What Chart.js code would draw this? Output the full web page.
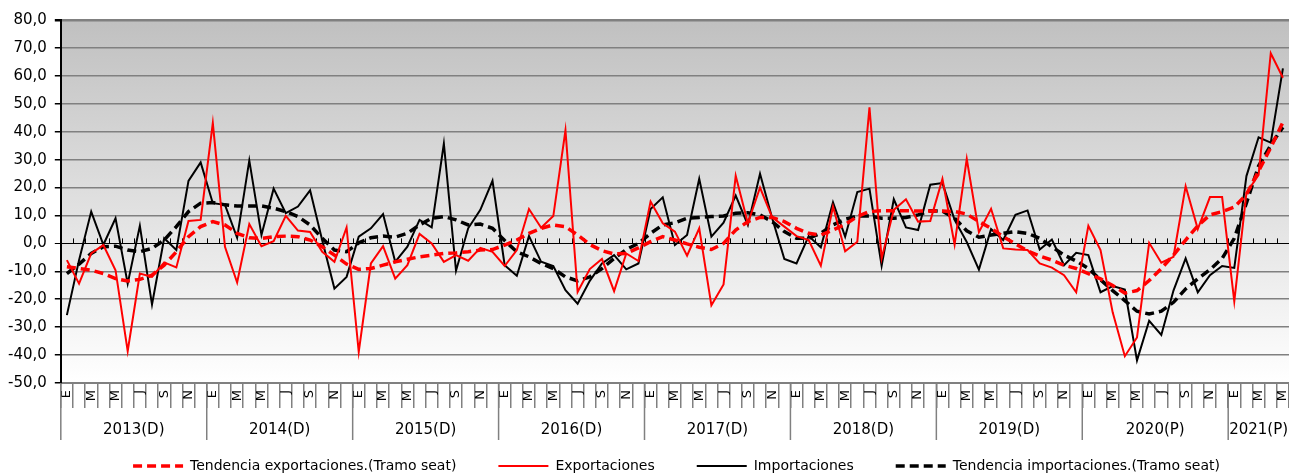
<!DOCTYPE html>
<html>
<head>
<meta charset="utf-8">
<script src="https://cdn.jsdelivr.net/npm/chart.js@4.4.1/dist/chart.umd.min.js"></script>
<style>
  body { margin: 0; background: #fff; }
  #wrap { width: 1289px; height: 475px; }
</style>
</head>
<body>
<div id="wrap"><canvas id="grafico"></canvas></div>
<script>
// meses (iniciales) y años del eje
var meses = ['E', 'F', 'M', 'A', 'M', 'J', 'J', 'A', 'S', 'O', 'N', 'D'];
var anios = ['2013(D)', '2014(D)', '2015(D)', '2016(D)', '2017(D)', '2018(D)', '2019(D)', '2020(P)', '2021(P)'];

var tendExport = [
  -8.4, -9.0, -9.6, -10.8, -12.6, -13.5, -12.9, -11.4, -7.8, -3.0, 2.4, 6.0,
  7.8, 6.6, 3.6, 2.0, 1.8, 2.4, 2.6, 2.4, 1.2, -1.2, -4.2, -7.4,
  -9.3, -9.0, -7.8, -6.6, -5.7, -4.8, -4.2, -3.6, -3.4, -3.0, -2.4, -2.2,
  -0.6, 1.2, 3.6, 5.4, 6.6, 6.0, 3.0, -0.4, -2.6, -3.8, -3.6, -1.6,
  0.6, 2.4, 1.2, -0.2, -1.4, -2.2, 0.0, 4.8, 7.8, 9.3, 9.3, 7.8,
  5.4, 3.6, 3.0, 4.8, 6.8, 9.6, 11.4, 11.7, 11.7, 11.7, 11.6, 11.6,
  11.6, 11.4, 10.5, 7.8, 5.4, 2.4, -0.2, -2.7, -4.5, -6.0, -7.8, -9.0,
  -10.8, -12.7, -15.1, -17.8, -16.9, -13.3, -9.0, -4.2, 1.2, 6.3, 10.2, 11.4,
  13.0, 17.5, 25.9, 34.3, 43.4
];
var exportaciones = [
  -6.0, -14.4, -3.6, -0.6, -9.6, -38.6, -10.8, -12.0, -6.8, -8.6, 8.0, 8.4,
  43.1, -1.2, -14.0, 6.9, -1.0, 0.8, 9.9, 4.6, 4.1, -3.0, -6.6, 5.7,
  -38.9, -7.2, -1.0, -12.6, -7.8, 3.4, 0.0, -6.6, -4.2, -6.2, -1.6, -3.0,
  -8.1, -2.4, 12.3, 5.6, 9.8, 40.5, -17.4, -9.2, -5.6, -17.1, -3.6, -6.3,
  15.0, 7.2, 4.2, -4.4, 5.4, -22.2, -14.7, 24.2, 7.2, 20.0, 9.3, 6.0,
  2.6, 1.2, -8.0, 13.2, -2.8, 0.6, 48.7, -5.4, 12.0, 15.8, 7.8, 8.0,
  23.1, -0.4, 30.3, 4.0, 12.4, -1.8, -2.2, -2.4, -7.2, -8.7, -11.4, -17.5,
  6.3, -2.4, -24.7, -40.4, -33.7, 0.2, -6.9, -4.8, 20.5, 5.1, 16.6, 16.6,
  -20.8, 18.1, 24.5, 68.1, 59.3
];
var importaciones = [
  -25.7, -6.0, 11.4, -0.5, 9.0, -14.4, 6.3, -21.9, 1.8, -2.4, 22.4, 29.0,
  14.4, 13.8, 2.0, 29.7, 3.0, 19.6, 10.8, 13.2, 19.0, 1.0, -16.2, -12.0,
  2.4, 5.4, 10.5, -6.6, -1.2, 8.4, 5.7, 35.7, -9.8, 5.4, 12.0, 22.4,
  -7.8, -11.6, 2.6, -6.6, -8.1, -16.8, -21.6, -13.4, -7.2, -4.2, -9.3, -7.2,
  12.3, 16.5, -0.6, 3.0, 23.1, 2.4, 7.4, 17.1, 6.6, 24.9, 9.0, -5.6,
  -7.2, 2.6, -1.4, 14.7, 2.4, 18.4, 19.6, -8.0, 15.8, 5.7, 4.8, 21.0,
  21.6, 8.4, 0.5, -9.4, 5.1, 1.2, 10.2, 11.8, -2.2, 1.4, -7.8, -3.4,
  -4.2, -17.5, -15.3, -16.5, -41.9, -27.7, -32.8, -16.9, -5.4, -17.5, -11.4, -8.1,
  -8.8, 24.1, 38.0, 36.1, 62.7
];
var tendImport = [
  -10.8, -7.4, -3.6, -1.2, -1.0, -2.4, -3.0, -1.8, 1.2, 6.0, 11.4, 14.4,
  14.6, 13.8, 13.4, 13.4, 13.4, 12.6, 11.4, 9.6, 6.6, 1.8, -2.4, -3.0,
  0.2, 2.0, 2.6, 2.2, 3.6, 6.6, 9.0, 9.6, 8.4, 6.6, 6.9, 5.4,
  1.0, -3.0, -4.8, -7.2, -9.0, -12.0, -13.4, -12.0, -9.0, -5.4, -2.2, 0.0,
  3.6, 6.6, 7.4, 9.0, 9.3, 9.6, 9.8, 10.8, 11.0, 10.2, 7.8, 4.2,
  1.8, 1.8, 3.6, 6.6, 8.6, 9.8, 9.8, 9.0, 9.0, 9.3, 10.2, 11.7,
  11.6, 9.0, 4.5, 2.2, 3.0, 3.6, 4.2, 3.6, 1.8, -1.2, -4.2, -6.3,
  -9.0, -13.0, -16.9, -20.5, -24.3, -25.3, -24.3, -21.1, -16.3, -12.7, -9.4, -5.4,
  1.8, 14.5, 27.7, 35.2, 41.6
];

var etiquetas = [];
anios.forEach(function() { meses.forEach(function(m) { etiquetas.push(m); }); });
etiquetas = etiquetas.slice(0, exportaciones.length);

var fuente = 'DejaVu Sans, Verdana, sans-serif';

// fondo degradado, marcas sobre el cero y rótulos de años
var decoracion = {
  id: 'decoracion',
  afterLayout: function(chart) {
    // la leyenda del original no está centrada del todo
    chart.legend.left += 32;
    chart.legend.right += 32;
  },
  beforeDraw: function(chart) {
    var a = chart.chartArea, ctx = chart.ctx;
    var g = ctx.createLinearGradient(0, a.top, 0, a.bottom);
    g.addColorStop(0, '#c0c0c0');
    g.addColorStop(1, '#ffffff');
    ctx.save();
    ctx.fillStyle = g;
    ctx.fillRect(a.left, a.top, a.right - a.left, a.bottom - a.top);
    ctx.restore();
  },
  beforeDatasetsDraw: function(chart) {
    var x = chart.scales.x, y = chart.scales.y, ctx = chart.ctx;
    var y0 = y.getPixelForValue(0);
    var medio = (x.getPixelForValue(1) - x.getPixelForValue(0)) / 2;
    ctx.save();
    ctx.strokeStyle = '#000';
    ctx.lineWidth = 1;
    ctx.beginPath();
    for (var i = 1; i < etiquetas.length; i++) {
      var px = Math.round(x.getPixelForValue(i) - medio) + 0.5;
      ctx.moveTo(px, y0 - 5);
      ctx.lineTo(px, y0);
    }
    ctx.stroke();
    ctx.restore();
  },
  afterDraw: function(chart) {
    var x = chart.scales.x, ctx = chart.ctx, a = chart.chartArea;
    var medio = (x.getPixelForValue(1) - x.getPixelForValue(0)) / 2;
    ctx.save();
    ctx.strokeStyle = '#808080';
    ctx.lineWidth = 1.5;
    ctx.fillStyle = '#000';
    ctx.font = '15px ' + fuente;
    ctx.textAlign = 'center';
    ctx.textBaseline = 'middle';
    anios.forEach(function(anio, k) {
      var ini = k * 12;
      var fin = Math.min(ini + 12, etiquetas.length) - 1;
      var x1 = x.getPixelForValue(ini) - medio;
      var x2 = x.getPixelForValue(fin) + medio;
      ctx.beginPath();
      ctx.moveTo(x1, a.bottom);
      ctx.lineTo(x1, a.bottom + 57);
      ctx.stroke();
      ctx.fillText(anio, (x1 + x2) / 2, a.bottom + 47);
    });
    ctx.restore();
  }
};

new Chart(document.getElementById('grafico'), {
  type: 'line',
  data: {
    labels: etiquetas,
    datasets: [
      {
        label: 'Tendencia exportaciones.(Tramo seat)',
        data: tendExport,
        borderColor: '#ff0000',
        backgroundColor: '#ff0000',
        borderWidth: 3.5,
        borderDash: [9, 5]
      },
      {
        label: 'Exportaciones',
        data: exportaciones,
        borderColor: '#ff0000',
        backgroundColor: '#ff0000',
        borderWidth: 2
      },
      {
        label: 'Importaciones',
        data: importaciones,
        borderColor: '#000000',
        backgroundColor: '#000000',
        borderWidth: 2
      },
      {
        label: 'Tendencia importaciones.(Tramo seat)',
        data: tendImport,
        borderColor: '#000000',
        backgroundColor: '#000000',
        borderWidth: 3.5,
        borderDash: [9, 5]
      }
    ]
  },
  options: {
    responsive: true,
    maintainAspectRatio: false,
    animation: false,
    elements: {
      point: { radius: 0 },
      line: { tension: 0 }
    },
    layout: { padding: { left: 0, top: 20, right: 0, bottom: -8 } },
    plugins: {
      tooltip: { enabled: false },
      legend: {
        position: 'bottom',
        labels: {
          usePointStyle: true,
          pointStyle: 'line',
          pointStyleWidth: 50,
          padding: 42,
          color: '#000',
          font: { family: fuente, size: 14 },
          generateLabels: function(chart) {
            var items = Chart.defaults.plugins.legend.labels.generateLabels(chart);
            items.forEach(function(it) {
              it.lineDash = chart.data.datasets[it.datasetIndex].borderDash || [];
            });
            return items;
          }
        }
      }
    },
    scales: {
      x: {
        offset: true,
        grid: {
          offset: true,
          drawOnChartArea: false,
          drawTicks: true,
          tickLength: 25,
          color: '#808080',
          lineWidth: 1.5
        },
        border: { color: '#808080', width: 2 },
        ticks: {
          autoSkip: false,
          maxRotation: 90,
          minRotation: 90,
          padding: -18,
          color: '#000',
          font: { family: fuente, size: 13 },
          callback: function(val, i) {
            return i % 2 === 0 ? this.getLabelForValue(val) : '';
          }
        },
        afterFit: function(s) { s.height = 34; }
      },
      y: {
        min: -50,
        max: 80,
        grid: {
          color: function(c) { return c.tick && c.tick.value === 0 ? '#000000' : '#808080'; },
          lineWidth: function(c) {
            if (!c.tick) return 1.5;
            if (c.tick.value === 0) return 1;
            if (c.tick.value === 80) return 2.5;
            return 1.5;
          },
          tickColor: '#000',
          tickLength: 6
        },
        border: { color: '#000', width: 2 },
        ticks: {
          stepSize: 10,
          padding: 8,
          color: '#000',
          font: { family: fuente, size: 15 },
          callback: function(v) { return v.toFixed(1).replace('.', ','); }
        }
      }
    }
  },
  plugins: [decoracion]
});
</script>
</body>
</html>
